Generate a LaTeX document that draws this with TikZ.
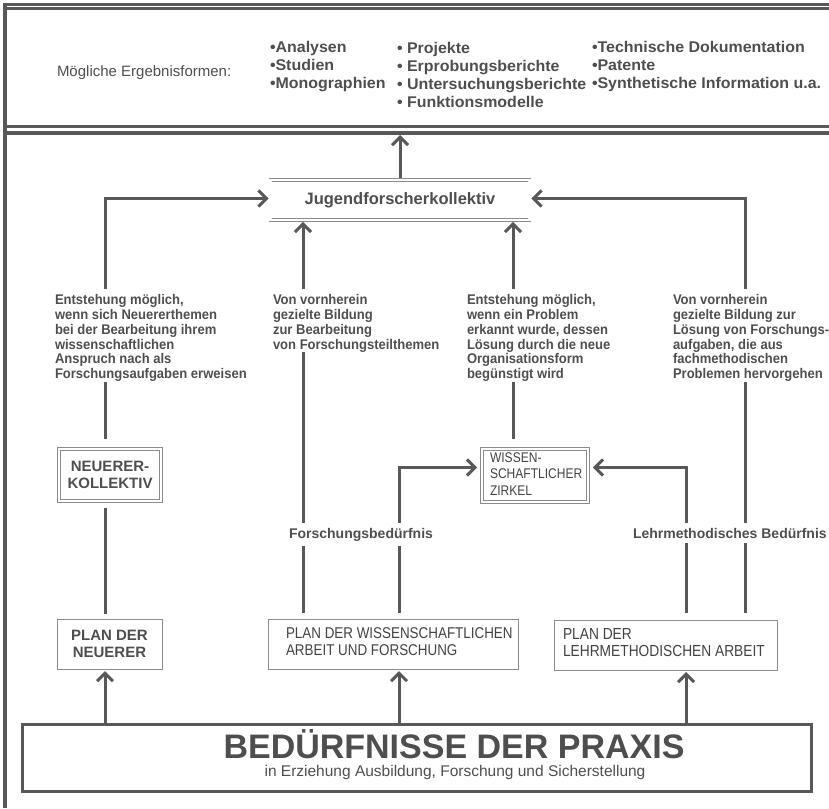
\documentclass[tikz,border=0pt]{standalone}
\usepackage{fontspec}
\setmainfont{Liberation Sans}
\newfontfamily\narrowfont[FakeStretch=0.86]{Liberation Sans}
\newfontfamily\notefont[FakeStretch=0.93]{Liberation Sans}
\newfontfamily\widefont[FakeStretch=1.03]{Liberation Sans}
\usetikzlibrary{arrows.meta}
\definecolor{txt}{HTML}{4E4E4E}
\definecolor{txtd}{HTML}{424242}
\definecolor{lin}{HTML}{585858}
\definecolor{bx}{HTML}{8C8C8C}
\newcommand{\lns}[1]{\begin{tabular}{@{}l@{}}#1\end{tabular}}
\begin{document}
\begin{tikzpicture}[x=1pt,y=-1pt,
  every node/.style={text=txt,inner sep=0pt,outer sep=0pt},
  conn/.style={draw=lin,line width=3pt},
  arr/.style={-{Straight Barb[length=8pt,width=16pt]}},
  sgap/.style={shorten <=#1},
  framel/.style={draw=lin},
  note/.style={font=\notefont\fontsize{14}{14.8}\selectfont\bfseries,align=left,anchor=north west},
  lbl/.style={font=\fontsize{14}{16}\selectfont\bfseries,inner ysep=5pt},
  plainbox/.style={draw=bx,line width=1pt,outer sep=0.5pt},
  dbox/.style={draw=bx,line width=0.8pt,double=white,double distance=2.2pt,outer sep=1.9pt},
  lst/.style={font=\widefont\fontsize{15.5}{18}\selectfont\bfseries,align=left,anchor=north west}
]
\useasboundingbox (0,0) rectangle (829,808);
% frame
\draw[framel,line width=3.3pt] (5,3) -- (5,808);
\draw[framel,line width=2.4pt] (3.4,4.5) -- (829,4.5);
\draw[framel,line width=3pt] (3.4,8.8) -- (829,8.8);
\draw[framel,line width=2.7pt] (3.4,126.3) -- (829,126.3);
\draw[framel,line width=3.7pt] (3.4,133.2) -- (829,133.2);
\coordinate (topb) at (400,135);
\coordinate (xA) at (105,0);
\coordinate (xB) at (303,0);
\coordinate (xC) at (399,0);
\coordinate (xD) at (513,0);
\coordinate (xE) at (686,0);
\coordinate (xF) at (745,0);
% top list
\node[anchor=base west,font=\fontsize{15}{18}\selectfont] (erg) at (57,76.5) {Mögliche Ergebnisformen:};
\node[lst] (l1) at (270,41) {•Analysen\\•Studien\\•Monographien};
\node[lst] (l2) at (397,42) {• Projekte\\• Erprobungsberichte\\• Untersuchungsberichte\\• Funktionsmodelle};
\node[lst] (l3) at (592,41) {•Technische Dokumentation\\•Patente\\•Synthetische Information u.a.};
% central node
\node[dbox,minimum width=259pt,minimum height=40pt,font=\fontsize{16.5}{19}\selectfont\bfseries] (jug) at (400,200) {Jugendforscherkollektiv};
% notes
\node[note] (t1) at (55,294.5) {Entstehung möglich,\\wenn sich Neuererthemen\\bei der Bearbeitung ihrem\\wissenschaftlichen\\Anspruch nach als\\Forschungsaufgaben erweisen};
\node[note] (t2) at (273,294.5) {Von vornherein\\gezielte Bildung\\zur Bearbeitung\\von Forschungsteilthemen};
\node[note] (t3) at (467,294.5) {Entstehung möglich,\\wenn ein Problem\\erkannt wurde, dessen\\Lösung durch die neue\\Organisationsform\\begünstigt wird};
\node[note] (t4) at (673,294.5) {Von vornherein\\gezielte Bildung zur\\Lösung von Forschungs-\\aufgaben, die aus\\fachmethodischen\\Problemen hervorgehen};
% labels
\node[lbl,anchor=base] (lf) at (361,538) {Forschungsbedürfnis};
\node[lbl,anchor=base west] (ll) at (633,538) {Lehrmethodisches Bedürfnis};
% boxes
\node[dbox,minimum width=102pt,minimum height=52pt,align=center,font=\fontsize{15}{17}\selectfont\bfseries] (nk) at (110,475) {NEUERER-\\KOLLEKTIV};
\node[dbox,minimum width=106pt,minimum height=53pt,inner xsep=8pt,text=txtd,font=\narrowfont\fontsize{14}{16.5}\selectfont] (wz) at (535,475.5) {\makebox[90pt][l]{\lns{WISSEN-\\SCHAFTLICHER\\ZIRKEL}}};
\node[plainbox,minimum width=105pt,minimum height=50pt,align=center,font=\fontsize{15}{17}\selectfont\bfseries] (pn) at (109.5,644) {PLAN DER\\NEUERER};
\node[plainbox,minimum width=250pt,minimum height=50pt,inner xsep=18pt,text=txtd,font=\narrowfont\fontsize{15.6}{17}\selectfont] (pw) at (393,644) {\makebox[214pt][l]{\lns{PLAN DER WISSENSCHAFTLICHEN\\ARBEIT UND FORSCHUNG}}};
\node[plainbox,minimum width=223pt,minimum height=50pt,inner xsep=9pt,text=txtd,font=\narrowfont\fontsize{16}{17}\selectfont] (pl) at (665.5,645) {\makebox[205pt][l]{\lns{PLAN DER\\LEHRMETHODISCHEN ARBEIT}}};
\node[draw=lin,line width=3.5pt,minimum width=789pt,minimum height=67pt,outer sep=1.75pt] (bed) at (417,758) {};
\node[anchor=base,font=\fontsize{34}{38}\selectfont\bfseries] (bt) at (454,758) {BEDÜRFNISSE DER PRAXIS};
\node[anchor=base,font=\fontsize{15.5}{18}\selectfont] (bs) at (455,776) {in Erziehung Ausbildung, Forschung und Sicherstellung};
% connectors
\draw[conn,arr] (jug.north) -- (topb);
% A
\draw[conn,arr,sgap=6pt] (t1.north -| xA) |- ([yshift=1.5pt]jug.west);
\draw[conn,sgap=8pt] (nk.north -| xA) -- (t1.south -| xA);
\draw[conn,sgap=5pt,shorten >=5pt] (pn.north -| xA) -- (nk.south -| xA);
\draw[conn,arr,shorten >=1.5pt] (bed.north -| xA) -- (pn.south -| xA);
% B
\draw[conn,arr,sgap=6pt] (t2.north -| xB) -- (jug.south -| xB);
\draw[conn] (lf.north -| xB) -- (t2.south -| xB);
\draw[conn,sgap=6pt] (pw.north -| xB) -- (lf.south -| xB);
% C
\draw[conn,sgap=6pt] (pw.north -| xC) -- (lf.south -| xC);
\draw[conn,arr,shorten >=3pt] (lf.north -| xC) |- ([yshift=8pt]wz.west);
\draw[conn,arr,shorten >=1.5pt] (bed.north -| xC) -- (pw.south -| xC);
% D
\draw[conn,sgap=8pt] (wz.north -| xD) -- (t3.south -| xD);
\draw[conn,arr,sgap=6pt] (t3.north -| xD) -- (jug.south -| xD);
% E
\draw[conn,sgap=7pt] (pl.north -| xE) -- (ll.south -| xE);
\draw[conn,arr,shorten >=3pt] (ll.north -| xE) |- ([yshift=8pt]wz.east);
\draw[conn,arr,shorten >=1.5pt] (bed.north -| xE) -- (pl.south -| xE);
% F
\draw[conn,sgap=7pt] (pl.north -| xF) -- (ll.south -| xF);
\draw[conn] (ll.north -| xF) -- (t4.south -| xF);
\draw[conn,arr,sgap=6pt] (t4.north -| xF) |- ([yshift=1.5pt]jug.east);
\end{tikzpicture}
\end{document}
